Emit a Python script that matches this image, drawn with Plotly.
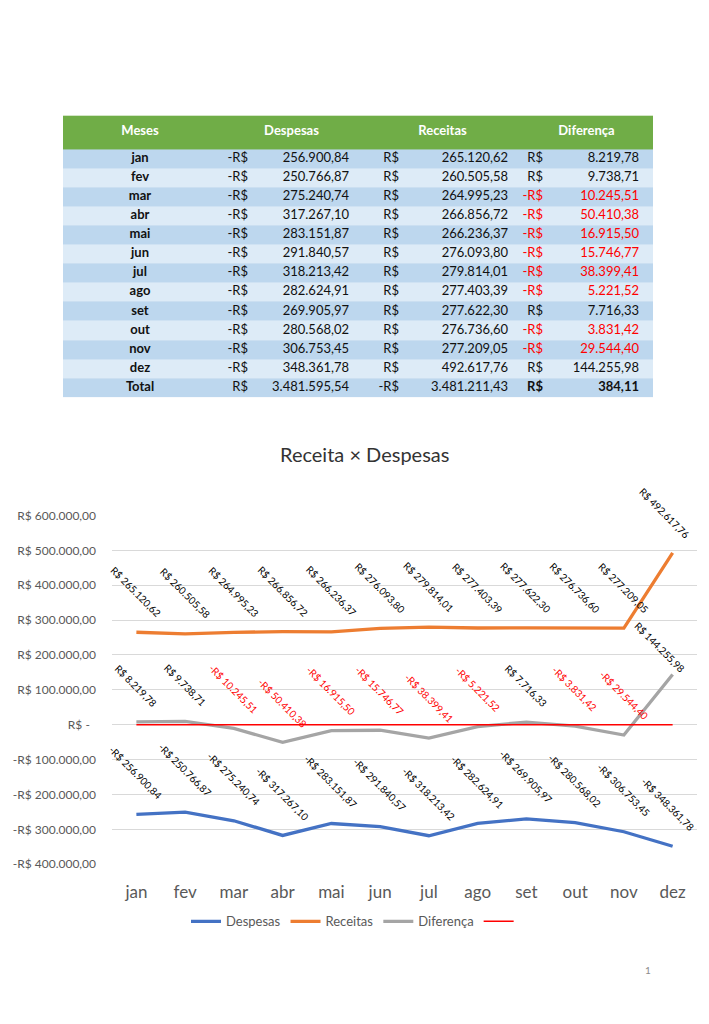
import plotly.graph_objects as go

# ---------------- data ----------------
meses = ["jan", "fev", "mar", "abr", "mai", "jun", "jul", "ago", "set", "out", "nov", "dez"]
despesas = [-256900.84, -250766.87, -275240.74, -317267.10, -283151.87, -291840.57,
            -318213.42, -282624.91, -269905.97, -280568.02, -306753.45, -348361.78]
receitas = [265120.62, 260505.58, 264995.23, 266856.72, 266236.37, 276093.80,
            279814.01, 277403.39, 277622.30, 276736.60, 277209.05, 492617.76]
diferenca = [8219.78, 9738.71, -10245.51, -50410.38, -16915.50, -15746.77,
             -38399.41, -5221.52, 7716.33, -3831.42, -29544.40, 144255.98]
referencia = [0, 0, 0, 0, 0, 0, 0, 0, 0, 0, 0, 0]
total_label = "Total"
total_despesas = 3481595.54
total_receitas = -3481211.43
total_diferenca = 384.11
y_ticks = [600000, 500000, 400000, 300000, 200000, 100000, 0,
           -100000, -200000, -300000, -400000]
table_headers = ["Meses", "Despesas", "Receitas", "Diferença"]
chart_title = "Receita × Despesas"
page_number = "1"

# ---------------- helpers ----------------
def num_br(v):
    s = f"{abs(v):,.2f}"
    return s.replace(",", "X").replace(".", ",").replace("X", ".")

def sign_br(v):
    return "-R$" if v < 0 else "R$"

def brl(v):
    return f"{sign_br(v)} {num_br(v)}"

def tick_br(v):
    if v == 0:
        return "R$ -\u00a0\u00a0"
    return brl(v)

W, H = 709, 1024
FONT = "Lato"
RED = "#FF0000"
TXT = "#111111"

fig = go.Figure()

# ---------------- table (drawn on its own axes) ----------------
T_LEFT, T_RIGHT, T_TOP, T_BOTTOM = 63, 653, 109, 395
HEADER_H = 34
n_rows = len(meses) + 1
row_h = (T_BOTTOM - T_TOP - HEADER_H) / n_rows
row_edges = [0, HEADER_H] + [HEADER_H + row_h * (i + 1) for i in range(n_rows)]
row_kind = [[2]] + [[1 if i % 2 == 0 else 0] for i in range(n_rows)]

fig.add_trace(go.Heatmap(
    z=row_kind, x=[0, T_RIGHT - T_LEFT], y=row_edges,
    colorscale=[[0, "#DDEBF7"], [0.5, "#BDD7EE"], [1, "#70AD47"]],
    zmin=0, zmax=2, showscale=False, hoverinfo="skip",
    xaxis="x2", yaxis="y2", xgap=0, ygap=0,
))

row_centers = [HEADER_H + row_h * (i + 0.5) for i in range(n_rows)]
col_meses = [f"<b>{m}</b>" for m in meses] + [f"<b>{total_label}</b>"]
d_vals = despesas + [total_despesas]
r_vals = receitas + [total_receitas]
f_vals = diferenca + [total_diferenca]

def bold_last(items):
    return items[:-1] + [f"<b>{items[-1]}</b>"]

# column text anchors (table-local pixel units)
cols = [
    (77, "middle center", col_meses, [TXT] * n_rows),
    (185, "middle left", [sign_br(v) for v in d_vals], [TXT] * n_rows),
    (286, "middle left", [num_br(v) for v in d_vals], [TXT] * n_rows),
    (336, "middle left", [sign_br(v) for v in r_vals], [TXT] * n_rows),
    (445, "middle left", [num_br(v) for v in r_vals], [TXT] * n_rows),
    (480, "middle left", bold_last([sign_br(v) for v in f_vals]),
     [RED if v < 0 else TXT for v in f_vals]),
    (576, "middle left", bold_last([num_br(v) for v in f_vals]),
     [RED if v < 0 else TXT for v in f_vals]),
]
for xpos, tpos, texts, colors in cols:
    fig.add_trace(go.Scatter(
        x=[xpos] * n_rows, y=row_centers, mode="text", text=texts,
        textposition=tpos, textfont=dict(family=FONT, size=13, color=colors),
        xaxis="x2", yaxis="y2", showlegend=False, hoverinfo="skip",
    ))

header_x = [77, 228.5, 379.5, 523.5]
fig.add_trace(go.Scatter(
    x=header_x, y=[HEADER_H / 2] * 4, mode="text",
    text=[f"<b>{h}</b>" for h in table_headers], textposition="middle center",
    textfont=dict(family=FONT, size=13, color="white"),
    xaxis="x2", yaxis="y2", showlegend=False, hoverinfo="skip",
))

# ---------------- line chart ----------------
series = [
    ("Despesas", despesas, "#4472C4", 3.3),
    ("Receitas", receitas, "#ED7D31", 3.3),
    ("Diferença", diferenca, "#A5A5A5", 3.3),
]
for name, vals, color, width in series:
    fig.add_trace(go.Scatter(
        x=meses, y=vals, name=name, mode="lines",
        line=dict(color=color, width=width), hoverinfo="skip",
    ))
fig.add_trace(go.Scatter(
    x=meses, y=referencia, name="", mode="lines",
    line=dict(color=RED, width=1.5), hoverinfo="skip",
))

# data labels
label_nudges = {("Receitas", 11): (-8, 0), ("Despesas", 11): (-5, 0),
                ("Diferença", 11): (-13, -13)}
annotations = []
for name, vals, color, width in series:
    for i, (m, v) in enumerate(zip(meses, vals)):
        c = RED if (name == "Diferença" and v < 0) else "#000000"
        dx, dy = label_nudges.get((name, i), (0, 0))
        annotations.append(dict(
            x=m, y=v, xref="x", yref="y", text=brl(v), showarrow=False,
            textangle=45, xanchor="center", yanchor="bottom",
            xshift=dx, yshift=10 + dy,
            font=dict(family=FONT, size=10, color=c),
        ))

annotations.append(dict(
    x=364 / W, y=1 - 453 / H, xref="paper", yref="paper", text=chart_title,
    showarrow=False, xanchor="center", yanchor="middle",
    font=dict(family=FONT, size=20, color="#333333"),
))
annotations.append(dict(
    x=648 / W, y=1 - 976 / H, xref="paper", yref="paper", text=page_number,
    showarrow=False, xanchor="center", yanchor="middle",
    font=dict(family=FONT, size=10, color="#8c8c8c"),
))

fig.update_layout(
    width=W, height=H, autosize=False,
    margin=dict(l=0, r=0, t=0, b=0, pad=0),
    paper_bgcolor="white", plot_bgcolor="white",
    showlegend=True,
    legend=dict(orientation="h", x=355 / W, xanchor="center",
                y=1 - 927 / H, yanchor="middle",
                font=dict(family=FONT, size=13, color="#595959"),
                itemwidth=30, bgcolor="rgba(0,0,0,0)"),
    xaxis=dict(domain=[112 / W, 697 / W], type="category", range=[-0.5, 11.5],
               showgrid=False, zeroline=False, showline=False, ticks="",
               tickfont=dict(family=FONT, size=17, color="#595959"),
               ticklabelstandoff=16, anchor="y", fixedrange=True),
    yaxis=dict(domain=[1 - 869 / H, 1 - 515 / H], range=[-400000, 600000],
               tickvals=y_ticks, ticktext=[tick_br(v) for v in y_ticks],
               showgrid=True, gridcolor="#D9D9D9", gridwidth=1,
               zeroline=False, showline=False, ticks="",
               tickfont=dict(family=FONT, size=12, color="#595959"),
               ticklabelstandoff=15, anchor="x", fixedrange=True),
    xaxis2=dict(domain=[T_LEFT / W, T_RIGHT / W], range=[0, T_RIGHT - T_LEFT],
                visible=False, anchor="y2", fixedrange=True),
    yaxis2=dict(domain=[1 - T_BOTTOM / H, 1 - T_TOP / H],
                range=[T_BOTTOM - T_TOP, 0], visible=False, anchor="x2",
                fixedrange=True),
    annotations=annotations,
)

fig.write_html("out.html", config={"displayModeBar": False},
               post_script="document.body.style.margin='0';")
